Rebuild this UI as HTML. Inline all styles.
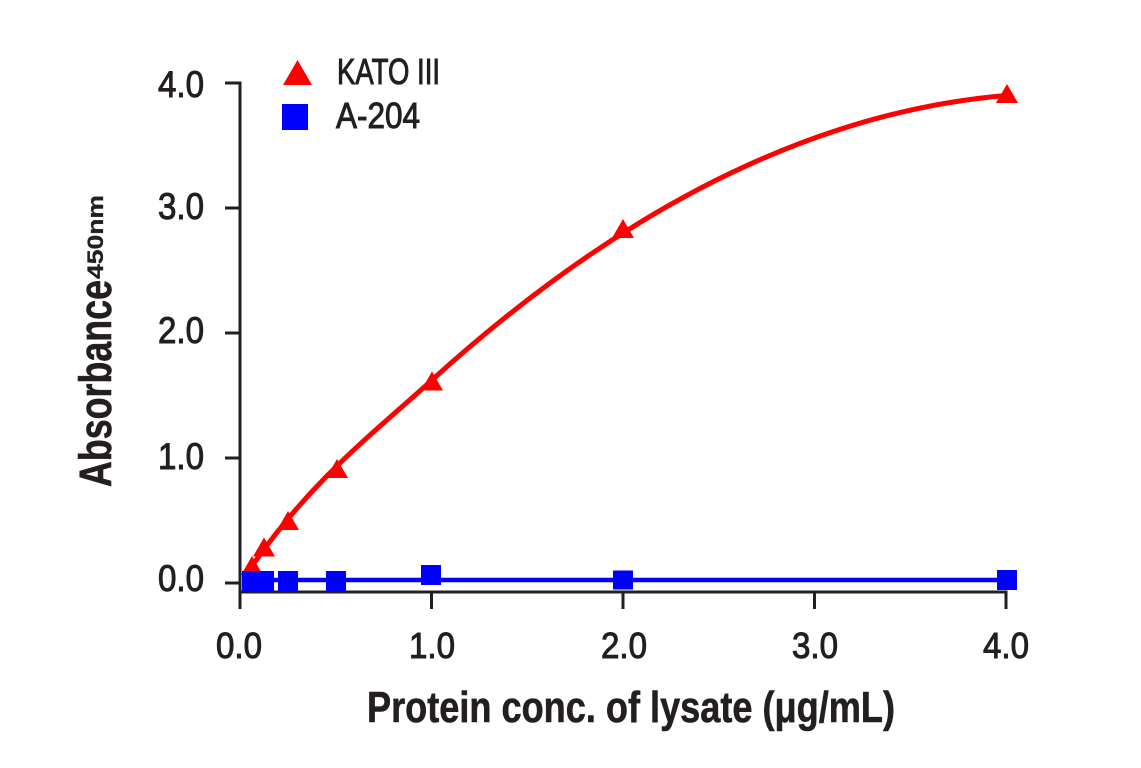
<!DOCTYPE html>
<html><head><meta charset="utf-8"><style>
html,body{margin:0;padding:0;background:#fff;}
svg{display:block;}
text{font-family:"Liberation Sans",Arial,sans-serif;fill:#231f20;}
</style></head><body>
<svg width="1141" height="768" viewBox="0 0 1141 768" xmlns="http://www.w3.org/2000/svg">
<rect width="1141" height="768" fill="#fff"/>
<!-- axes -->
<g stroke="#231f20" stroke-width="3" fill="none">
<path d="M225,83 H240 V609"/>
<path d="M225,208 H240 M225,333 H240 M225,458 H240 M225,583 H240"/>
<path d="M240,592 H1007.5"/>
<path d="M431.5,592 V609 M623,592 V609 M814.5,592 V609 M1006,592 V609"/>
</g>
<!-- y tick labels -->
<g font-size="37" stroke="#231f20" stroke-width="1" text-anchor="end">
<text x="204" y="97" textLength="46" lengthAdjust="spacingAndGlyphs">4.0</text>
<text x="204" y="219" textLength="46" lengthAdjust="spacingAndGlyphs">3.0</text>
<text x="204" y="343" textLength="46" lengthAdjust="spacingAndGlyphs">2.0</text>
<text x="204" y="469" textLength="46" lengthAdjust="spacingAndGlyphs">1.0</text>
<text x="204" y="591" textLength="46" lengthAdjust="spacingAndGlyphs">0.0</text>
</g>
<!-- x tick labels -->
<g font-size="36" stroke="#231f20" stroke-width="1" text-anchor="middle">
<text x="239" y="658" textLength="46" lengthAdjust="spacingAndGlyphs">0.0</text>
<text x="432" y="658" textLength="46" lengthAdjust="spacingAndGlyphs">1.0</text>
<text x="624" y="658" textLength="46" lengthAdjust="spacingAndGlyphs">2.0</text>
<text x="815" y="658" textLength="46" lengthAdjust="spacingAndGlyphs">3.0</text>
<text x="1006" y="658" textLength="46" lengthAdjust="spacingAndGlyphs">4.0</text>
</g>
<!-- axis titles -->
<text x="367" y="722" font-size="44" font-weight="bold" stroke="#231f20" stroke-width="0.6" textLength="528" lengthAdjust="spacingAndGlyphs">Protein conc. of lysate (μg/mL)</text>
<text transform="translate(111,487) rotate(-90)" font-size="45" font-weight="bold" stroke="#231f20" stroke-width="0.6" textLength="207" lengthAdjust="spacingAndGlyphs">Absorbance</text>
<text transform="translate(103,279) rotate(-90)" font-size="22" font-weight="bold" stroke="#231f20" stroke-width="0.3" textLength="84" lengthAdjust="spacingAndGlyphs">450nm</text>
<!-- red series -->
<path d="M252,566 C312,479.8 371.5,434.9 431.5,380.5 Q718.75,119.9 1006,95.5" fill="none" stroke="#ff0000" stroke-width="5"/>
<g fill="#ff0000">
<polygon points="252,556 241,575 263,575"/>
<polygon points="264,537.5 253,556.5 275,556.5"/>
<polygon points="288,511 277,530 299,530"/>
<polygon points="337,459 326,478 348,478"/>
<polygon points="432,371.5 421,390.5 443,390.5"/>
<polygon points="623,219 612,238 634,238"/>
<polygon points="1007,84 996,103 1018,103"/>
</g>
<!-- blue series -->
<path d="M242,580 H1006" fill="none" stroke="#0000ff" stroke-width="4.5"/>
<g fill="#0000ff">
<rect x="242" y="571" width="20" height="20"/>
<rect x="254" y="571" width="20" height="20"/>
<rect x="278" y="571" width="20" height="20"/>
<rect x="326" y="571" width="20" height="20"/>
<rect x="421" y="565" width="20" height="20"/>
<rect x="613" y="570.5" width="20" height="19"/>
<rect x="997" y="570" width="20" height="20"/>
</g>
<!-- legend -->
<polygon points="297.5,60 283,85 312,85" fill="#ff0000"/>
<rect x="282" y="104" width="26" height="26" fill="#0000ff"/>
<g font-size="36" stroke="#231f20" stroke-width="1">
<text x="337" y="84" textLength="103" lengthAdjust="spacingAndGlyphs">KATO III</text>
<text x="336" y="128" textLength="84" lengthAdjust="spacingAndGlyphs">A-204</text>
</g>
</svg>
</body></html>
